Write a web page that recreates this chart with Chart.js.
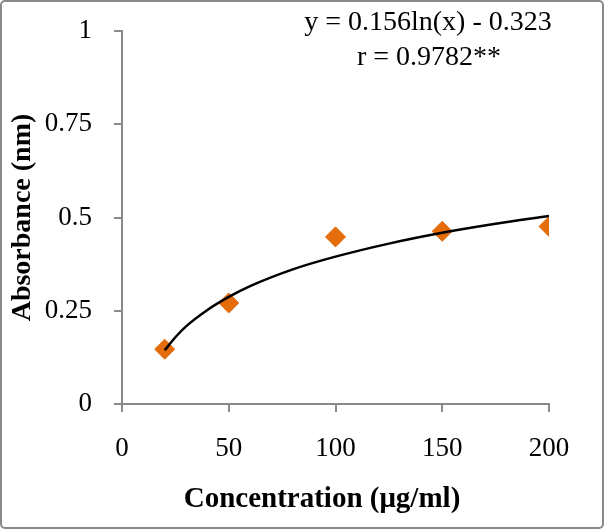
<!DOCTYPE html>
<html>
<head>
<meta charset="utf-8">
<script src="https://cdn.jsdelivr.net/npm/chart.js@4.4.1/dist/chart.umd.min.js"></script>
<style>
html,body{margin:0;padding:0;background:#fff;}
#wrap{width:604px;height:529px;position:relative;}
</style>
</head>
<body>
<div id="wrap"><canvas id="c" width="604" height="529"></canvas></div>
<script>
// Observed data points
const concentrations = [20, 50, 100, 150, 200];
const absorbance = [0.147, 0.271, 0.448, 0.463, 0.476];
// Trend line
const trendX = [20, 25, 30, 40, 50, 60, 80, 100, 125, 150, 175, 200];
const trendY = [0.144, 0.179, 0.208, 0.252, 0.287, 0.316, 0.361, 0.395, 0.430, 0.459, 0.483, 0.504];
// Tick labels
const xTicks = [0, 50, 100, 150, 200];
const yTicks = [0, 0.25, 0.5, 0.75, 1];
const yTickLabels = ["0", "0.25", "0.5", "0.75", "1"];
const eqLines = ["y = 0.156ln(x) - 0.323", "r = 0.9782**"];
const xTitle = "Concentration (μg/ml)";
const yTitle = "Absorbance (nm)";

const SERIF = "'Liberation Serif', 'Times New Roman', serif";
const AXIS_GRAY = '#8a8a8a';

const frame = {
  id: 'frame',
  beforeDraw(chart) {
    const ctx = chart.ctx;
    ctx.save();
    ctx.fillStyle = '#fff';
    ctx.fillRect(0, 0, chart.width, chart.height);
    ctx.restore();
  },
  afterDraw(chart) {
    const ctx = chart.ctx;
    ctx.save();
    ctx.strokeStyle = AXIS_GRAY;
    ctx.lineWidth = 2;
    ctx.beginPath();
    ctx.roundRect(1, 1, chart.width - 2, chart.height - 2, 4);
    ctx.stroke();
    // equation annotation
    ctx.fillStyle = '#000';
    ctx.font = "28px " + SERIF;
    ctx.textAlign = 'center';
    ctx.textBaseline = 'middle';
    ctx.fillText(eqLines[0], 428, 23);
    ctx.fillText(eqLines[1], 429, 58);
    // x axis title
    ctx.font = "bold 29px " + SERIF;
    ctx.textBaseline = 'alphabetic';
    ctx.fillText(xTitle, 322, 507);
    ctx.restore();
  }
};

new Chart(document.getElementById('c'), {
  type: 'scatter',
  data: {
    datasets: [
      {
        type: 'line',
        label: 'trend',
        data: trendX.map((x, i) => ({x: x, y: trendY[i]})),
        borderColor: '#000',
        borderWidth: 2.5,
        pointRadius: 0,
        cubicInterpolationMode: 'monotone',
        fill: false,
        order: 0
      },
      {
        label: 'Absorbance',
        data: concentrations.map((x, i) => ({x: x, y: absorbance[i]})),
        backgroundColor: '#E46C0A',
        borderColor: '#E46C0A',
        pointStyle: 'rectRot',
        pointRadius: 10,
        pointHoverRadius: 10,
        order: 1
      }
    ]
  },
  options: {
    responsive: false,
    animation: false,
    events: [],
    layout: { padding: { top: 31, right: 55, left: 0, bottom: 0 } },
    plugins: { legend: { display: false }, tooltip: { enabled: false } },
    scales: {
      x: {
        type: 'linear',
        min: 0, max: 200,
        afterBuildTicks: s => { s.ticks = xTicks.map(v => ({value: v})); },
        afterFit: s => { s.height = 529 - 404; s.paddingLeft = 0; s.paddingRight = 0; },
        grid: { drawOnChartArea: false, drawTicks: true, tickLength: 8, color: AXIS_GRAY, lineWidth: 2 },
        border: { display: true, color: AXIS_GRAY, width: 2 },
        ticks: { color: '#000', font: { family: SERIF, size: 27 }, padding: 21, maxRotation: 0 },
        title: { display: false }
      },
      y: {
        type: 'linear',
        min: 0, max: 1,
        afterBuildTicks: s => { s.ticks = yTicks.map(v => ({value: v})); },
        afterFit: s => { s.width = 122; s.paddingTop = 0; s.paddingBottom = 0; },
        grid: { drawOnChartArea: false, drawTicks: true, tickLength: 8, color: AXIS_GRAY, lineWidth: 2 },
        border: { display: true, color: AXIS_GRAY, width: 2 },
        ticks: { color: '#000', font: { family: SERIF, size: 27 }, padding: 22,
                 callback: (v) => yTickLabels[yTicks.indexOf(v)] },
        title: { display: true, text: yTitle, color: '#000',
                 font: { family: SERIF, size: 28, weight: 'bold' }, padding: { top: 6, bottom: 0 } }
      }
    }
  },
  plugins: [frame]
});
</script>
</body>
</html>
